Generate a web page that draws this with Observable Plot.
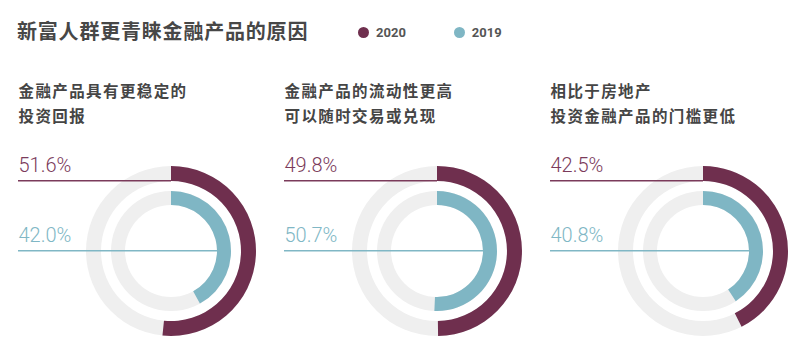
<!DOCTYPE html>
<html>
<head>
<meta charset="utf-8">
<script src="https://cdn.jsdelivr.net/npm/d3@7"></script>
<script src="https://cdn.jsdelivr.net/npm/@observablehq/plot@0.6"></script>
<style>
  html, body { margin: 0; padding: 0; background: #ffffff; }
  body { width: 800px; height: 359px; overflow: hidden; font-family: "Noto Sans CJK SC", "Noto Sans", sans-serif; }
  #header { position: relative; width: 800px; height: 60px; }
  #title { position: absolute; left: 17px; top: 20px; font-size: 20px; line-height: 21px; font-weight: 700; color: #474747; letter-spacing: 0.8px; white-space: nowrap; }
  #legend { position: absolute; left: 358px; top: 25px; display: flex; align-items: center; font-family: Roboto, "Noto Sans", sans-serif; font-weight: 700; font-size: 13px; color: #555; }
  .item { display: flex; align-items: center; margin-right: 48px; }
  .dot { width: 11px; height: 11px; border-radius: 50%; margin-right: 7px; }
  #chart svg { display: block; }
</style>
</head>
<body>
<div id="header">
  <div id="title">新富人群更青睐金融产品的原因</div>
  <div id="legend"></div>
</div>
<div id="chart"></div>
<script>
// ---- data ----
const reasons = [
  "金融产品具有更稳定的\n投资回报",
  "金融产品的流动性更高\n可以随时交易或兑现",
  "相比于房地产\n投资金融产品的门槛更低"
];
const years = ["2020", "2019"];
const values2020 = [51.6, 49.8, 42.5];
const values2019 = [42.0, 50.7, 40.8];
const colors = ["#6f2f4e", "#7fb6c4"];
const textColors = ["#7b3b5b", "#80b7c5"];

// ---- table ----
const rows = [];
reasons.forEach((reason, i) => {
  rows.push({reason, year: years[0], value: values2020[i]});
  rows.push({reason, year: years[1], value: values2019[i]});
});
const colorOf = d3.scaleOrdinal(years, colors);
const textColorOf = d3.scaleOrdinal(years, textColors);

// ---- legend ----
const legend = d3.select("#legend");
years.forEach(y => {
  const it = legend.append("div").attr("class", "item");
  it.append("div").attr("class", "dot").style("background", colorOf(y));
  it.append("span").text(y);
});

// ---- layout (styles) ----
const cyRing = 191;
const labelOffset = 153;
const ringRadii = {"2020": [70, 85], "2019": [46, 60]};
const lineEnd = {"2020": 0, "2019": 46};
const lineY = {"2020": -70, "2019": 0};
const labelBaseline = {"2020": 111, "2019": 181};

const angle = d3.scaleLinear([0, 100], [0, 2 * Math.PI]);

function ringMark(index, scales, values, dims) {
  const g = d3.create("svg:g");
  const arc = d3.arc();
  for (const d of rows) {
    const cx = scales.x(d.reason);
    const cy = dims.marginTop + cyRing;
    const [r0, r1] = ringRadii[d.year];
    const gg = g.append("g").attr("transform", `translate(${cx},${cy})`);
    gg.append("path")
      .attr("d", arc({innerRadius: r0, outerRadius: r1, startAngle: 0, endAngle: 2 * Math.PI}))
      .attr("fill", "#efefef");
    gg.append("path")
      .attr("d", arc({innerRadius: r0, outerRadius: r1, startAngle: 0, endAngle: angle(d.value)}))
      .attr("fill", colorOf(d.year));
  }
  for (const d of rows) {
    const cx = scales.x(d.reason);
    const cy = dims.marginTop + cyRing;
    g.append("line")
      .attr("x1", cx - labelOffset).attr("x2", cx + lineEnd[d.year])
      .attr("y1", cy + lineY[d.year] - 0.3).attr("y2", cy + lineY[d.year] - 0.3)
      .attr("stroke", textColorOf(d.year)).attr("stroke-width", 1.6);
  }
  return g.node();
}

const marks = [
  ringMark,
  Plot.text(reasons, {
    x: d => d, text: d => d, frameAnchor: "top", dy: 41, dx: -labelOffset,
    textAnchor: "start", lineAnchor: "middle", lineHeight: 1.61,
    fontSize: 15.5, fontWeight: "bold", fill: "#454545",
    fontFamily: "Noto Sans CJK SC"
  })
];
years.forEach(y => {
  marks.push(Plot.text(rows.filter(d => d.year === y), {
    x: "reason", text: d => d.value.toFixed(1) + "%",
    frameAnchor: "top", dy: labelBaseline[y], dx: -labelOffset,
    textAnchor: "start", lineAnchor: "bottom",
    fontSize: 20, fontWeight: 300, fontFamily: "Roboto",
    fill: textColorOf(y)
  }));
});

const plot = Plot.plot({
  width: 800,
  height: 299,
  margin: 0,
  x: {type: "point", domain: reasons, range: [171, 703], padding: 0, axis: null},
  marks
});
d3.select(plot).selectAll('g[font-size="15.5"]').style("letter-spacing", "1.4px");
document.getElementById("chart").append(plot);
</script>
</body>
</html>
